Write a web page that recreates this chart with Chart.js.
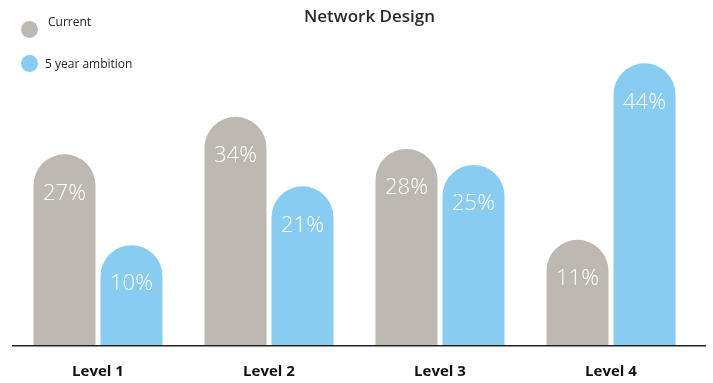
<!DOCTYPE html>
<html>
<head>
<meta charset="utf-8">
<script src="https://cdn.jsdelivr.net/npm/chart.js@4"></script>
<style>
  html, body { margin: 0; padding: 0; background: #fff; }
  #wrap { position: relative; width: 713px; height: 383px; }
  #myChart { display: block; }
  #title {
    position: absolute; left: 304px; top: 4px;
    font: 600 17px "Open Sans", sans-serif; color: #2a2a2a; white-space: nowrap;
  }
  .key { position: absolute; font: 12px "Open Sans", sans-serif; color: #222; white-space: nowrap; }
  .dot { position: absolute; width: 17px; height: 17px; border-radius: 50%; }
</style>
</head>
<body>
<div id="wrap">
  <canvas id="myChart" width="713" height="383"></canvas>
  <div id="title">Network Design</div>
  <div class="dot" style="left:21px; top:21px; background:#bdb8b2"></div>
  <div class="key" style="left:48px; top:13px">Current</div>
  <div class="dot" style="left:21px; top:55px; background:#88ccf2"></div>
  <div class="key" style="left:45px; top:55px">5 year ambition</div>
</div>
<script>
const levels = ['Level 1', 'Level 2', 'Level 3', 'Level 4'];
const seriesNames = ['Current', '5 year ambition'];
const currentPct = [27, 34, 28, 11];
const ambitionPct = [10, 21, 25, 44];

const barColors = ['#bdb8b2', '#88ccf2'];
const floor = -8.7;

// percent text inside each bar, just under the rounded top
const valueLabels = {
    id: 'valueLabels',
    afterDatasetsDraw(chart) {
        const ctx = chart.ctx;
        ctx.save();
        ctx.fillStyle = '#ffffff';
        ctx.font = '300 22px "Open Sans", sans-serif';
        ctx.textAlign = 'center';
        ctx.textBaseline = 'middle';
        chart.data.datasets.forEach(function (ds, i) {
            chart.getDatasetMeta(i).data.forEach(function (bar, j) {
                ctx.fillText(ds.data[j] + '%', bar.x, bar.y + 39);
            });
        });
        ctx.restore();
    }
};

// baseline under the bars
const baseLine = {
    id: 'baseLine',
    afterDatasetsDraw(chart) {
        const ctx = chart.ctx;
        const y = chart.scales.y.getPixelForValue(floor);
        ctx.save();
        ctx.strokeStyle = '#222';
        ctx.lineWidth = 1.6;
        ctx.beginPath();
        ctx.moveTo(12, y + 0.5);
        ctx.lineTo(706, y + 0.5);
        ctx.stroke();
        ctx.restore();
    }
};

const roundTop = { topLeft: 40, topRight: 40, bottomLeft: 0, bottomRight: 0 };

const ctx = document.getElementById('myChart');
const myChart = new Chart(ctx, {
    type: 'bar',
    data: {
        labels: levels,
        datasets: [{
            label: seriesNames[0],
            data: currentPct,
            backgroundColor: barColors[0],
            base: floor,
            borderRadius: roundTop,
            borderSkipped: false
        }, {
            label: seriesNames[1],
            data: ambitionPct,
            backgroundColor: barColors[1],
            base: floor,
            borderRadius: roundTop,
            borderSkipped: false
        }]
    },
    options: {
        responsive: false,
        animation: false,
        categoryPercentage: 0.7836,
        barPercentage: 0.925,
        layout: {
            padding: { top: 58, left: 12.5, right: 16.5, bottom: -15.4 }
        },
        plugins: {
            legend: { display: false },
            title: { display: false },
            tooltip: { enabled: false }
        },
        scales: {
            x: {
                grid: { display: false, drawTicks: false },
                border: { display: false },
                ticks: {
                    padding: 17.6,
                    color: '#111',
                    font: { family: '"Open Sans", sans-serif', size: 15, weight: 'bold' }
                }
            },
            y: {
                display: false,
                min: floor,
                max: 45
            }
        }
    },
    plugins: [valueLabels, baseLine]
});
</script>
</body>
</html>
